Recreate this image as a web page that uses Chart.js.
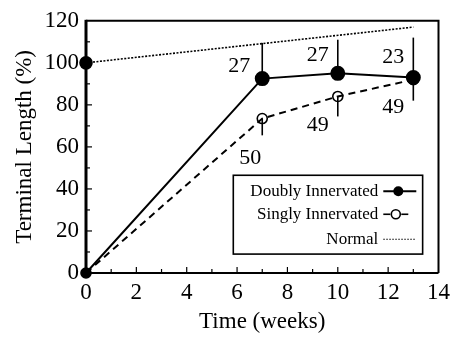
<!DOCTYPE html>
<html><head><meta charset="utf-8">
<script src="https://cdn.jsdelivr.net/npm/chart.js@4/dist/chart.umd.min.js"></script>
<style>html,body{margin:0;padding:0;background:#fff}#wrap{width:456px;height:337px;position:relative}canvas{display:block}</style>
</head><body><div id="wrap"><canvas id="c" width="456" height="337" style="width:456px;height:337px"></canvas></div>
<script>
// ---- data ----
const weeks = [0, 7, 10, 13];
const doublyValues = [0, 92.5, 95, 93];
const doublyUpper = [null, 109.5, 111, 112];
const singlyValues = [0, 73.5, 84, 92];
const singlyLower = [null, 65.5, 74.5, 82];
const normalWeeks = [0, 13];
const normalValues = [100, 117];
const doublyCounts = [null, '27', '27', '23'];
const singlyCounts = [null, '50', '49', '49'];
const xTickValues = [0, 2, 4, 6, 8, 10, 12, 14];
const yTickValues = [0, 20, 40, 60, 80, 100, 120];
const seriesLabels = ['Doubly Innervated', 'Singly Innervated', 'Normal'];

const SERIF = '"Liberation Serif", "Times New Roman", serif';
const pts = (xs, ys) => xs.map((x, i) => ({x, y: ys[i]}));

const decor = {
  id: 'decor',
  afterDatasetsDraw(chart) {
    const {ctx, scales: {x, y}, chartArea: ca} = chart;
    ctx.save();
    ctx.strokeStyle = '#000';
    ctx.lineWidth = 1.6;
    ctx.lineCap = 'butt';
    weeks.forEach((w, i) => {
      const px = x.getPixelForValue(w);
      if (doublyUpper[i] != null) {
        ctx.beginPath();
        ctx.moveTo(px, y.getPixelForValue(doublyValues[i]));
        ctx.lineTo(px, y.getPixelForValue(doublyUpper[i]));
        ctx.stroke();
      }
      if (singlyLower[i] != null) {
        ctx.beginPath();
        ctx.moveTo(px, y.getPixelForValue(singlyValues[i]));
        ctx.lineTo(px, y.getPixelForValue(singlyLower[i]));
        ctx.stroke();
      }
    });
    ctx.fillStyle = '#000';
    ctx.font = '22px ' + SERIF;
    ctx.textAlign = 'center';
    ctx.textBaseline = 'middle';
    const dOff = [null, [-23, -12], [-20, -18], [-20, -20]];
    const sOff = [null, [-12, 40], [-20, 29], [-20, 28]];
    weeks.forEach((w, i) => {
      const px = x.getPixelForValue(w);
      if (doublyCounts[i]) ctx.fillText(doublyCounts[i], px + dOff[i][0], y.getPixelForValue(doublyValues[i]) + dOff[i][1]);
      if (singlyCounts[i]) ctx.fillText(singlyCounts[i], px + sOff[i][0], y.getPixelForValue(singlyValues[i]) + sOff[i][1]);
    });
    ctx.lineWidth = 1.2;
    for (let v = 1; v < 14; v++) {
      const px = x.getPixelForValue(v);
      const len = v % 2 === 0 ? 6 : 4;
      ctx.beginPath(); ctx.moveTo(px, ca.bottom); ctx.lineTo(px, ca.bottom - len); ctx.stroke();
    }
    for (let v = 10; v < 120; v += 10) {
      const py = y.getPixelForValue(v);
      const len = v % 20 === 0 ? 6 : 4;
      ctx.beginPath(); ctx.moveTo(ca.left, py); ctx.lineTo(ca.left + len, py); ctx.stroke();
    }
    ctx.lineWidth = 2;
    ctx.beginPath();
    ctx.moveTo(ca.left, ca.top); ctx.lineTo(ca.right, ca.top); ctx.lineTo(ca.right, ca.bottom);
    ctx.stroke();
    ctx.beginPath(); ctx.moveTo(ca.left - 1, ca.bottom); ctx.lineTo(ca.right, ca.bottom); ctx.stroke();
    ctx.lineWidth = 3;
    ctx.beginPath(); ctx.moveTo(ca.left, ca.top - 1); ctx.lineTo(ca.left, ca.bottom + 1); ctx.stroke();

    // legend box
    const lx0 = x.getPixelForValue(5.85), lx1 = x.getPixelForValue(13.37);
    const ly0 = y.getPixelForValue(46.5), ly1 = y.getPixelForValue(9);
    ctx.fillStyle = '#fff';
    ctx.fillRect(lx0, ly0, lx1 - lx0, ly1 - ly0);
    ctx.lineWidth = 1.6;
    ctx.strokeRect(lx0, ly0, lx1 - lx0, ly1 - ly0);
    ctx.fillStyle = '#000';
    ctx.font = '17px ' + SERIF;
    ctx.textAlign = 'right';
    ctx.textBaseline = 'middle';
    const rows = [ly0 + 16, ly0 + 39, ly0 + 64];
    const tx = lx0 + 145;
    seriesLabels.forEach((lab, i) => ctx.fillText(lab, tx, rows[i]));
    ctx.setLineDash([]);
    ctx.lineWidth = 2;
    ctx.beginPath(); ctx.moveTo(tx + 5, rows[0]); ctx.lineTo(tx + 38, rows[0]); ctx.stroke();
    ctx.beginPath(); ctx.arc(tx + 20, rows[0], 5, 0, Math.PI * 2); ctx.fill();
    ctx.lineWidth = 1.6;
    ctx.beginPath(); ctx.moveTo(tx + 5, rows[1]); ctx.lineTo(tx + 12, rows[1]); ctx.stroke();
    ctx.beginPath(); ctx.moveTo(tx + 23, rows[1]); ctx.lineTo(tx + 30, rows[1]); ctx.stroke();
    ctx.beginPath(); ctx.arc(tx + 17.5, rows[1], 4.5, 0, Math.PI * 2); ctx.stroke();
    ctx.lineWidth = 1.2;
    ctx.setLineDash([1.5, 1.5]);
    ctx.beginPath(); ctx.moveTo(tx + 5, rows[2]); ctx.lineTo(tx + 38, rows[2]); ctx.stroke();
    ctx.restore();
  }
};

new Chart(document.getElementById('c'), {
  type: 'line',
  data: {
    datasets: [
      { label: seriesLabels[0], data: pts(weeks, doublyValues), borderColor: '#000', backgroundColor: '#000',
        borderWidth: 2, pointRadius: [4, 6.5, 6.5, 6.5], pointBackgroundColor: '#000', pointBorderColor: '#000', tension: 0, clip: false },
      { label: seriesLabels[1], data: pts(weeks, singlyValues), borderColor: '#000', backgroundColor: 'rgba(0,0,0,0)',
        borderWidth: 2, borderDash: [7, 5], pointRadius: 5, pointBorderWidth: 1.6, pointBackgroundColor: 'rgba(0,0,0,0)',
        pointBorderColor: '#000', tension: 0, clip: false },
      { label: seriesLabels[2], data: pts(normalWeeks, normalValues), borderColor: '#000', backgroundColor: '#000',
        borderWidth: 1.6, borderDash: [2, 1.5], pointRadius: [6, 0], pointBackgroundColor: '#000', tension: 0, clip: false }
    ]
  },
  options: {
    responsive: false,
    animation: false,
    devicePixelRatio: 1,
    layout: { padding: { top: 16, right: 13, left: 0, bottom: 0 } },
    plugins: { legend: { display: false }, tooltip: { enabled: false } },
    scales: {
      x: {
        type: 'linear', min: 0, max: 14,
        afterBuildTicks: s => { s.ticks = xTickValues.map(v => ({value: v})); },
        afterFit: s => { s.height = 64; },
        grid: { display: false, drawTicks: false },
        border: { display: false },
        ticks: { color: '#000', padding: 6, font: { family: SERIF, size: 23 } },
        title: { display: true, text: 'Time (weeks)', color: '#000', padding: { top: 0, bottom: 1 }, font: { family: SERIF, size: 23 } }
      },
      y: {
        min: 0, max: 120,
        afterBuildTicks: s => { s.ticks = yTickValues.map(v => ({value: v})); },
        afterFit: s => { s.width = 86; },
        grid: { display: false, drawTicks: false },
        border: { display: false },
        ticks: { color: '#000', padding: 7, font: { family: SERIF, size: 23 } },
        title: { display: true, text: 'Terminal Length (%)', color: '#000', padding: { top: 11, bottom: 0 }, font: { family: SERIF, size: 23 } }
      }
    }
  },
  plugins: [decor]
});
</script>
</body></html>
